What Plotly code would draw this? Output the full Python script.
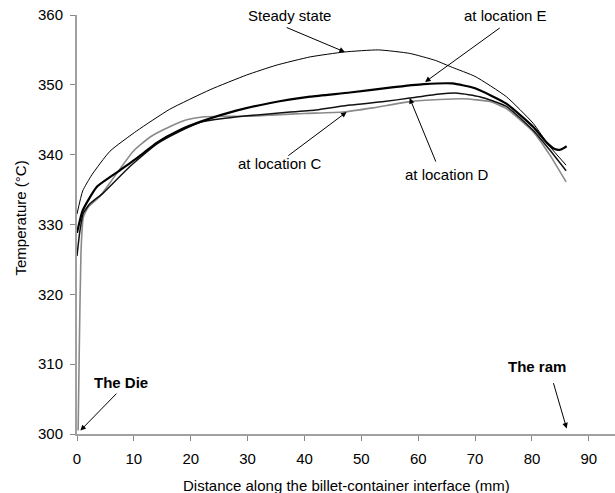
import plotly.graph_objects as go

# Steady state
steady_x = [0, 1, 2.6, 5.8, 10.5, 16.3, 23.4, 29.8, 35, 41, 47, 53, 58.5, 63, 66, 70, 75.5, 80.2, 83, 86]
steady_t = [331.5, 334.8, 337.1, 340.5, 343.4, 346.5, 349.3, 351.4, 352.8, 354.0, 354.7, 355.0, 354.5, 353.5, 352.5, 351.2, 348.3, 344.5, 341.3, 338.5]

# At location E
e_x = [0, 1, 3.5, 7.6, 11, 14, 18, 22, 28, 34, 41, 48, 55, 61, 66, 70, 75.5, 80.2, 82.5, 84, 85, 86.1]
e_t = [328.8, 332, 335.4, 337.8, 339.8, 341.7, 343.5, 344.8, 346.3, 347.4, 348.3, 348.9, 349.6, 350.1, 350.2, 349.5, 347.3, 344.0, 341.8, 340.8, 340.7, 341.2]

# At location D
d_x = [0, 0.5, 1.1, 2.3, 4.6, 9.3, 14, 18, 22, 26, 30.4, 36, 42, 48, 54, 58.5, 63.8, 67, 70.8, 75.5, 80.2, 83.1, 86]
d_t = [325.5, 329, 331.6, 333, 334.5, 338.3, 341.5, 343.3, 344.7, 345.2, 345.6, 346.0, 346.4, 347.1, 347.6, 348.1, 348.7, 348.8, 348.3, 346.9, 343.5, 340.7, 337.7]

# At location C
c_x = [0.2, 0.4, 0.7, 1.1, 2, 4, 6, 9.9, 13, 16.3, 19.3, 22, 26, 30, 35, 40, 46.8, 52, 58.5, 63.8, 68, 72.6, 75.5, 80.2, 83.1, 86]
c_t = [300.5, 312, 326, 331, 332.5, 334, 336.2, 340.5, 342.6, 344.0, 345.0, 345.4, 345.5, 345.5, 345.7, 345.9, 346.1, 346.7, 347.6, 347.9, 348.0, 347.6, 346.6, 343.3, 340.0, 336.1]

x_ticks = [0, 10, 20, 30, 40, 50, 60, 70, 80, 90]
y_ticks = [300, 310, 320, 330, 340, 350, 360]

x_title = "Distance along the billet-container interface (mm)"
y_title = "Temperature (°C)"

FONT = "Liberation Sans, Arial, sans-serif"

fig = go.Figure()
fig.add_trace(go.Scatter(x=c_x, y=c_t, mode="lines", line=dict(color="#8a8a8a", width=1.6, shape="spline", smoothing=0.5), name="C"))
fig.add_trace(go.Scatter(x=d_x, y=d_t, mode="lines", line=dict(color="#111111", width=1.5, shape="spline", smoothing=0.5), name="D"))
fig.add_trace(go.Scatter(x=e_x, y=e_t, mode="lines", line=dict(color="#000000", width=2.2, shape="spline", smoothing=0.5), name="E"))
fig.add_trace(go.Scatter(x=steady_x, y=steady_t, mode="lines", line=dict(color="#000000", width=1, shape="spline", smoothing=0.5), name="Steady"))

# labels: (text, x, y)
labels = [
    ("Steady state", 37.4, 360.0),
    ("at location E", 75.4, 360.0),
    ("at location C", 35.7, 338.8),
    ("at location D", 65.0, 337.1),
    ("<b>The Die</b>", 7.7, 307.4),
    ("<b>The ram</b>", 80.8, 309.6),
]
for txt, x, y in labels:
    fig.add_annotation(x=x, y=y, text=txt, showarrow=False, xref="x", yref="y",
                       font=dict(family=FONT, size=15, color="black"))

# arrows: (tail x, tail y, head x, head y)
arrows = [
    (36.6, 358.3, 47.1, 354.7),
    (74.6, 358.3, 61.2, 350.4),
    (36.9, 339.7, 47.4, 346.1),
    (63.2, 338.8, 58.5, 348.1),
    (7.2, 306.0, 0.6, 300.5),
    (83.7, 307.5, 86.1, 300.8),
]
for ax, ay, hx, hy in arrows:
    fig.add_annotation(x=hx, y=hy, ax=ax, ay=ay, xref="x", yref="y", axref="x", ayref="y",
                       text="", showarrow=True, arrowhead=2, arrowsize=1.1, arrowwidth=1,
                       arrowcolor="black")

# axis titles
fig.add_annotation(x=0.5, y=0, xref="paper", yref="paper", text=x_title, showarrow=False,
                   xanchor="center", yanchor="middle", yshift=-51,
                   font=dict(family=FONT, size=15, color="black"))
fig.add_annotation(x=0, y=0.5, xref="paper", yref="paper", text=y_title, showarrow=False,
                   xanchor="center", yanchor="middle", xshift=-57, yshift=6, textangle=-90,
                   font=dict(family=FONT, size=15, color="black"))

fig.update_layout(
    width=615, height=493,
    margin=dict(l=77, r=0, t=15, b=59, autoexpand=False),
    paper_bgcolor="white", plot_bgcolor="white",
    showlegend=False,
    font=dict(family=FONT, size=15, color="black"),
)
fig.update_xaxes(
    range=[0, 94.6], tickvals=x_ticks, showgrid=False, zeroline=False,
    showline=True, linecolor="#a0a0a0", linewidth=2, automargin=False,
    ticks="outside", ticklen=5, tickcolor="#888888", tickwidth=1,
    ticklabelstandoff=5,
)
fig.update_yaxes(
    range=[300, 360], tickvals=y_ticks, showgrid=False, zeroline=False,
    showline=True, linecolor="#a0a0a0", linewidth=2, automargin=False,
    ticks="outside", ticklen=5, tickcolor="#888888", tickwidth=1,
    ticklabelstandoff=4,
)

fig.write_html("out.html", config={"displayModeBar": False},
               post_script="document.body.style.margin='0';document.body.style.overflow='hidden';")
